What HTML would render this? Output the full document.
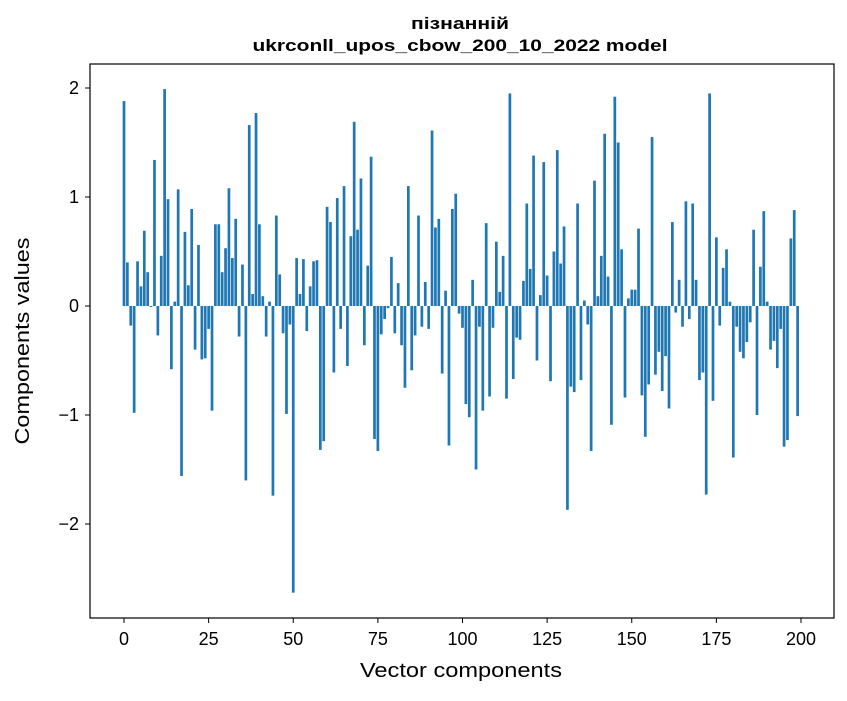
<!DOCTYPE html>
<html><head><meta charset="utf-8"><style>
body{margin:0;background:#fff;}
svg text{font-family:"Liberation Sans","DejaVu Sans",sans-serif;fill:#000;}
</style></head><body>
<svg id="chart" width="847" height="696" viewBox="0 0 847 696" xmlns="http://www.w3.org/2000/svg">
<rect width="847" height="696" fill="#fff"/>
<text x="460" y="29" text-anchor="middle" font-size="17" font-weight="bold" textLength="98" lengthAdjust="spacingAndGlyphs">пізнанній</text>
<text x="460" y="51" text-anchor="middle" font-size="17" font-weight="bold" textLength="415" lengthAdjust="spacingAndGlyphs">ukrconll_upos_cbow_200_10_2022 model</text>
<g id="bars"></g>
<g id="xticks"></g>
<g id="yticks"></g>
<rect x="90" y="64" width="744" height="554" fill="none" stroke="#000" stroke-width="1.2"/>
<text x="461" y="677" text-anchor="middle" font-size="20" textLength="202" lengthAdjust="spacingAndGlyphs">Vector components</text>
<text transform="translate(29,341) rotate(-90)" text-anchor="middle" font-size="20" textLength="207" lengthAdjust="spacingAndGlyphs">Components values</text>
</svg>
<script>
const values = [
1.88,0.40,-0.18,-0.98,0.41,0.18,0.69,0.31,-0.01,1.34,
-0.27,0.46,1.99,0.98,-0.58,0.04,1.07,-1.56,0.68,0.19,
0.89,-0.40,0.56,-0.49,-0.48,-0.21,-0.96,0.75,0.75,0.31,
0.53,1.08,0.44,0.80,-0.28,0.38,-1.60,1.66,0.11,1.77,
0.75,0.09,-0.28,0.04,-1.74,0.83,0.29,-0.25,-0.99,-0.17,
-2.63,0.44,0.11,0.43,-0.23,0.18,0.41,0.42,-1.32,-1.24,
0.91,0.77,-0.61,0.99,-0.21,1.10,-0.55,0.64,1.69,0.70,
1.17,-0.36,0.37,1.37,-1.22,-1.33,-0.26,-0.12,-0.02,0.45,
-0.25,0.21,-0.36,-0.75,1.10,-0.59,-0.27,0.83,-0.19,0.22,
-0.21,1.61,0.72,0.80,-0.62,0.14,-1.28,0.89,1.03,-0.07,
-0.20,-0.90,-1.02,0.24,-1.50,-0.19,-0.96,0.76,-0.83,-0.20,
0.59,0.13,0.46,-0.85,1.95,-0.67,-0.29,-0.31,0.23,0.94,
0.34,1.38,-0.50,0.10,1.32,0.28,-0.69,0.50,1.43,0.39,
0.73,-1.87,-0.74,-0.79,0.94,-0.68,0.05,-0.17,-1.33,1.15,
0.09,0.46,1.58,0.27,-1.09,1.92,1.50,0.52,-0.84,0.07,
0.15,0.15,0.71,-0.82,-1.20,-0.72,1.55,-0.63,-0.42,-0.78,
-0.46,-0.94,0.77,-0.06,0.24,-0.19,0.96,-0.12,0.94,0.24,
-0.68,-0.61,-1.73,1.95,-0.87,0.63,-0.18,0.35,0.52,0.04,
-1.39,-0.19,-0.42,-0.48,-0.33,-0.15,0.70,-1.00,0.36,0.87,
0.04,-0.40,-0.32,-0.57,-0.21,-1.29,-1.23,0.62,0.88,-1.01
];
const xTickValues = [0,25,50,75,100,125,150,175,200];
const yTickValues = [-2,-1,0,1,2];
const yTickLabels = ["\u22122","\u22121","0","1","2"];
const NS="http://www.w3.org/2000/svg";
function xs(v){return 124 + (v)*3.385;}
function ys(v){return 306 - v*109;}
const bars=document.getElementById('bars');
values.forEach((v,i)=>{
  const r=document.createElementNS(NS,'rect');
  const y0=ys(0), y1=ys(v);
  r.setAttribute('x', xs(i-0.4));
  r.setAttribute('width', 0.8*3.385);
  r.setAttribute('y', Math.min(y0,y1));
  r.setAttribute('height', Math.max(Math.abs(y1-y0),0.5));
  r.setAttribute('fill','#1f77b4');
  
  
  bars.appendChild(r);
});
const xt=document.getElementById('xticks');
xTickValues.forEach(t=>{
  const l=document.createElementNS(NS,'line');
  l.setAttribute('x1',xs(t));l.setAttribute('x2',xs(t));
  l.setAttribute('y1',618);l.setAttribute('y2',623);
  l.setAttribute('stroke','#000');
  
  
  xt.appendChild(l);
  const tx=document.createElementNS(NS,'text');
  tx.setAttribute('x',xs(t));tx.setAttribute('y',645);
  tx.setAttribute('text-anchor','middle');tx.setAttribute('font-size','18');
  tx.textContent=String(t);
  
  
  xt.appendChild(tx);
});
const yt=document.getElementById('yticks');
yTickValues.forEach((t,k)=>{
  const l=document.createElementNS(NS,'line');
  l.setAttribute('x1',85);l.setAttribute('x2',90);
  l.setAttribute('y1',ys(t));l.setAttribute('y2',ys(t));
  l.setAttribute('stroke','#000');
  
  
  yt.appendChild(l);
  const tx=document.createElementNS(NS,'text');
  tx.setAttribute('x',79);tx.setAttribute('y',ys(t)+6);
  tx.setAttribute('text-anchor','end');tx.setAttribute('font-size','18');
  tx.textContent=yTickLabels[k];
  
  
  yt.appendChild(tx);
});
</script>
</body></html>
